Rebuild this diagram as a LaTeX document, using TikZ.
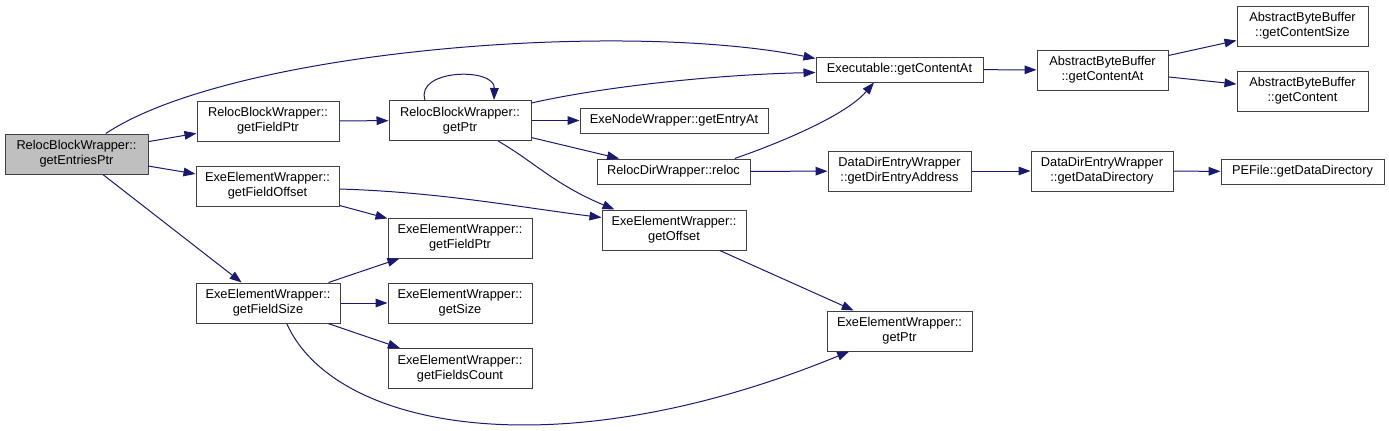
\documentclass[tikz,border=0pt]{standalone}
\usepackage{fontspec}
\setmainfont{Liberation Sans}
\usetikzlibrary{arrows.meta}
\definecolor{edgeblue}{RGB}{25,25,112}
\definecolor{fnborder}{HTML}{404040}
\definecolor{rootgray}{HTML}{BFBFBF}

\begin{document}
\begin{tikzpicture}[x=0.75pt, y=-0.75pt,
  >={Triangle[length=9pt,width=6.5pt]},
  font=\fontsize{9.6}{11.3}\selectfont,
  fn/.style={draw=fnborder, line width=0.75pt, fill=white, align=center,
             inner sep=0pt, minimum width=#1, minimum height=30pt},
  fnl/.style={fn=#1, minimum height=18.75pt},
  call/.style={->, draw=edgeblue, line width=0.75pt},
]
  \useasboundingbox (0,0) rectangle (1389,430);

  % root and first level
  \node[fn=107.25pt, fill=rootgray] (ep) at (76.5,154) {RelocBlockWrapper::\\getEntriesPtr};
  \node[fn=106.5pt] (rfp) at (268,121) {RelocBlockWrapper::\\getFieldPtr};
  \node[fn=107.25pt] (fo) at (267.5,186) {ExeElementWrapper::\\getFieldOffset};
  \node[fn=108pt] (fs) at (268,303) {ExeElementWrapper::\\getFieldSize};

  % second level
  \node[fn=106.5pt] (rp) at (460,120.5) {RelocBlockWrapper::\\getPtr};
  \node[fn=108pt] (efp) at (460,238) {ExeElementWrapper::\\getFieldPtr};
  \node[fn=108pt] (es) at (460,303) {ExeElementWrapper::\\getSize};
  \node[fn=108pt] (fc) at (460,368.5) {ExeElementWrapper::\\getFieldsCount};

  % third level
  \node[fnl=141pt] (ena) at (674,120.5) {ExeNodeWrapper::getEntryAt};
  \node[fnl=114.75pt] (rel) at (673.5,171.5) {RelocDirWrapper::reloc};
  \node[fn=108pt] (go) at (674,230) {ExeElementWrapper::\\getOffset};

  % fourth level
  \node[fnl=125.25pt] (ec) at (899.5,69.5) {Executable::getContentAt};
  \node[fn=107.25pt] (dea) at (899.5,171) {DataDirEntryWrapper\\::getDirEntryAddress};
  \node[fn=108.75pt] (eptr) at (899.5,331) {ExeElementWrapper::\\getPtr};

  % right part
  \node[fn=98.25pt] (abc) at (1102.5,70) {AbstractByteBuffer\\::getContentAt};
  \node[fn=106.5pt] (ddd) at (1102,171) {DataDirEntryWrapper\\::getDataDirectory};
  \node[fn=98.25pt] (acs) at (1302.5,26) {AbstractByteBuffer\\::getContentSize};
  \node[fn=98.25pt] (ac) at (1302.5,91) {AbstractByteBuffer\\::getContent};
  \node[fnl=122.25pt] (pe) at (1302.5,171.5) {PEFile::getDataDirectory};

  % calls
  \draw[call] (ep.35) .. controls +(125,-83) and +(-196,-39) .. ([yshift=-1.5pt]ec.north west);
  \draw[call] (ep) -- (rfp);
  \draw[call] (ep) -- (fo);
  \draw[call] (ep) -- (fs);

  \draw[call] (rfp) -- (rp);
  \draw[call] ([xshift=-26.25pt]rp.north) .. controls +(-10,-31) and +(1,-33) .. ([xshift=25.5pt]rp.north);
  \draw[call] ([yshift=-2.25pt]rp.north east) .. controls +(70,-16) and +(-100,2) .. ([yshift=-2.25pt]ec.west);
  \draw[call] (rp) -- (ena);
  \draw[call] (rp) -- (rel);
  \draw[call] ([xshift=28.5pt]rp.south) .. controls +(35,20) and +(-60,-25) .. ([xshift=9.75pt]go.north west);

  \draw[call] ([yshift=-2.25pt]fo.east) .. controls +(100,3) and +(-80,-10) .. ([yshift=-6pt]go.north west);
  \draw[call] (fo) -- (efp);

  \draw[call] (fs) -- (efp);
  \draw[call] (fs) -- (es);
  \draw[call] (fs) -- (fc);
  \draw[call] ([xshift=14pt]fs.south) .. controls +(48,107) and +(-290,119) .. ([xshift=17pt]eptr.south west);

  \draw[call] (rel.12) .. controls +(35,-12) and +(-30,35) .. (ec.207);
  \draw[call] (rel) -- (dea);
  \draw[call] (go) -- (eptr);

  \draw[call] (ec) -- (abc);
  \draw[call] (abc) -- (acs);
  \draw[call] (abc) -- (ac);
  \draw[call] (dea) -- (ddd);
  \draw[call] (ddd) -- (pe);
\end{tikzpicture}
\end{document}
